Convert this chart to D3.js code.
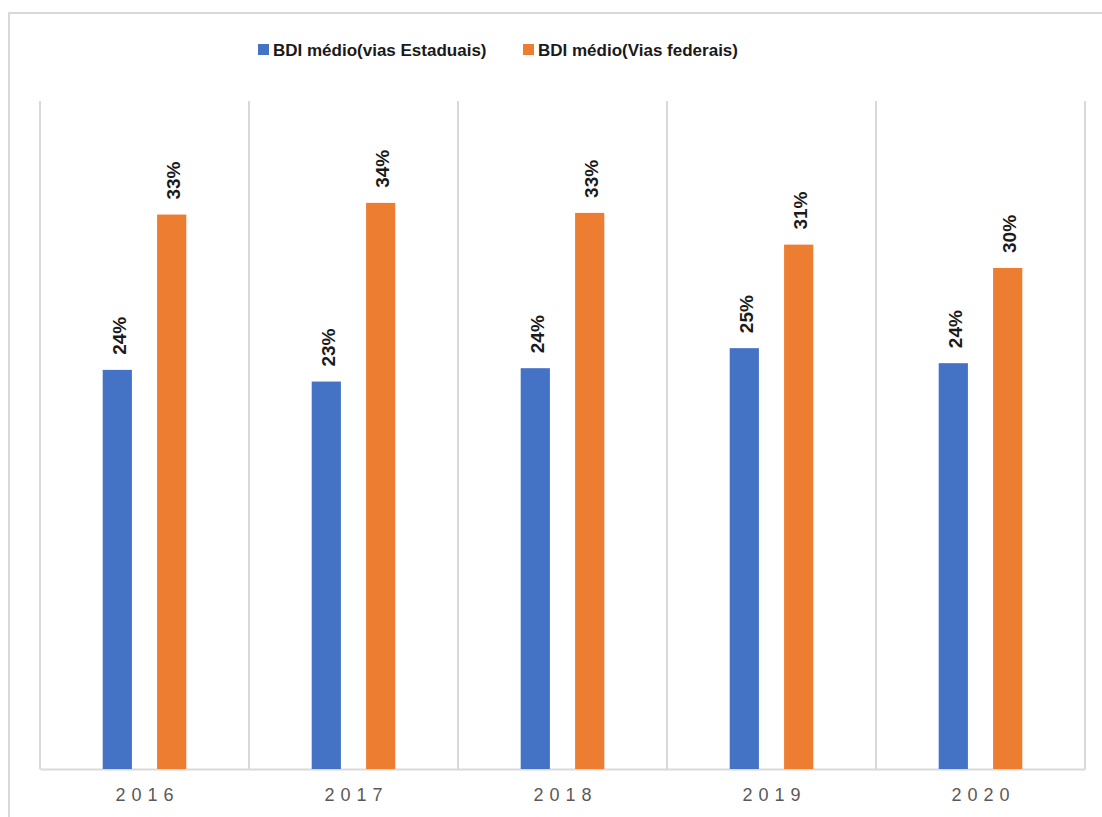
<!DOCTYPE html>
<html>
<head>
<meta charset="utf-8">
<script src="https://cdn.jsdelivr.net/npm/d3@7"></script>
<style>
  html, body { margin: 0; padding: 0; background: #fff; }
  svg { display: block; }
</style>
</head>
<body>
<svg id="chart" width="1102" height="817"></svg>
<script>
// Average BDI by year, state roads vs federal roads
const years = ["2016", "2017", "2018", "2019", "2020"];
const seriesNames = ["BDI médio(vias Estaduais)", "BDI médio(Vias federais)"];
const estaduais = [0.239, 0.232, 0.240, 0.252, 0.243];
const federais = [0.332, 0.339, 0.333, 0.314, 0.300];
const colors = ["#4472C4", "#ED7D31"];

const svg = d3.select("#chart");
const W = 1102, H = 817;
const plot = { left: 40, right: 1085, top: 101, bottom: 769 };

// outer frame
svg.append("rect")
  .attr("x", 9).attr("y", 13)
  .attr("width", W + 20).attr("height", H + 20)
  .attr("fill", "none").attr("stroke", "#d9d9d9").attr("stroke-width", 2);

const x = d3.scaleBand().domain(years).range([plot.left, plot.right]).padding(0);
const y = d3.scaleLinear().domain([0, 0.40]).range([plot.bottom, plot.top]);

// vertical separators between categories
const edges = years.map(d => x(d)).concat([x(years[years.length - 1]) + x.bandwidth()]);
svg.append("g").selectAll("line").data(edges).join("line")
  .attr("x1", d => d).attr("x2", d => d)
  .attr("y1", plot.top).attr("y2", plot.bottom)
  .attr("stroke", "#d9d9d9").attr("stroke-width", 2);

// baseline axis
const xAxis = svg.append("g")
  .attr("transform", `translate(0,${plot.bottom})`)
  .call(d3.axisBottom(x).tickSize(0).tickPadding(0));
xAxis.select(".domain").attr("stroke", "#d9d9d9").attr("stroke-width", 2);
xAxis.selectAll(".tick text")
  .attr("y", 19)
  .attr("dx", 3)
  .attr("font-family", "Liberation Sans, Arial, sans-serif")
  .attr("font-size", 18)
  .attr("letter-spacing", "6px")
  .attr("fill", "#595959");

// bars: two per year, grouped in the middle of each band
const bw = x.bandwidth();
const inner = d3.scaleBand().domain([0, 1])
  .range([bw * 0.3, bw * 0.7]).paddingInner(0.463).paddingOuter(0);
const data = years.map((yr, i) => ({ year: yr, values: [estaduais[i], federais[i]] }));

const groups = svg.append("g").selectAll("g").data(data).join("g")
  .attr("transform", d => `translate(${x(d.year)},0)`);

groups.selectAll("rect").data(d => d.values.map((v, s) => ({ v, s }))).join("rect")
  .attr("x", d => inner(d.s))
  .attr("width", inner.bandwidth())
  .attr("y", d => y(d.v))
  .attr("height", d => y(0) - y(d.v))
  .attr("fill", d => colors[d.s]);

const fmt = d3.format(".0%");
groups.selectAll("text.lbl").data(d => d.values.map((v, s) => ({ v, s }))).join("text")
  .attr("class", "lbl")
  .attr("transform", d => `translate(${inner(d.s) + inner.bandwidth() / 2 + 2},${y(d.v) - 15}) rotate(-90)`)
  .attr("dy", "0.35em")
  .attr("font-family", "Liberation Sans, Arial, sans-serif")
  .attr("font-weight", "bold")
  .attr("font-size", 19)
  .attr("fill", "#1a1a1a")
  .text(d => fmt(d.v));

// legend
const legendX = [258, 523];
const legend = svg.append("g").selectAll("g").data(seriesNames).join("g")
  .attr("transform", (d, i) => `translate(${legendX[i]},44)`);
legend.append("rect").attr("width", 11).attr("height", 11).attr("fill", (d, i) => colors[i]);
legend.append("text")
  .attr("x", 15).attr("y", 6).attr("dy", "0.35em")
  .attr("font-family", "Liberation Sans, Arial, sans-serif")
  .attr("font-weight", "bold")
  .attr("font-size", 17)
  .attr("fill", "#1a1a1a")
  .text(d => d);
</script>
</body>
</html>
